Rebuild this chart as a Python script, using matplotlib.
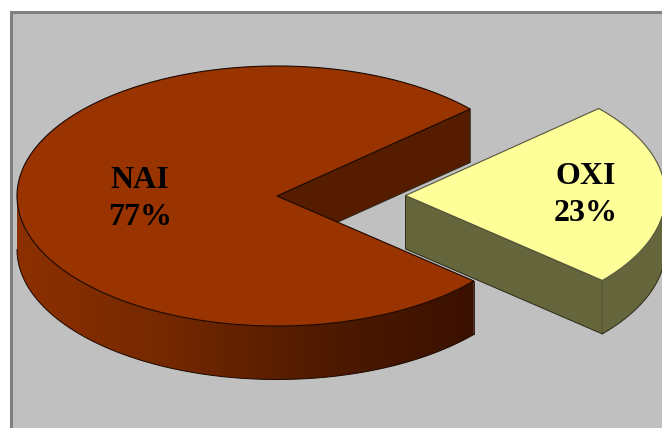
import numpy as np
import matplotlib.pyplot as plt
from matplotlib.colors import LinearSegmentedColormap
from matplotlib.patches import Polygon, Rectangle

plt.rcParams['font.family'] = ['Liberation Serif', 'DejaVu Serif']

labels = ['NAI', 'OXI']
values = [77, 23]
top_colors = ['#993300', '#FFFF99']
side_colors = ['#561C00', '#66663C']

start_angle = 42.0
rx, ry, depth = 260.0, 130.0, 53.5
main_center = (277.0, 196.0)
oxi_center = (405.5, 195.5)

# angles of both slices come from the values
spans = [v / sum(values) * 360 for v in values]
nai_from, nai_to = start_angle, start_angle + spans[0]
oxi_from, oxi_to = start_angle - spans[1], start_angle

fig = plt.figure(figsize=(6.62, 4.28), dpi=100, facecolor='white')
ax = fig.add_axes([0, 0, 1, 1])
ax.set_xlim(0, 662)
ax.set_ylim(428, 0)
ax.axis('off')

ax.add_patch(Rectangle((11, 11.5), 670, 440, fc='#C0C0C0', ec='#808080', lw=2.2))


def arc(center, a0, a1, n=200):
    t = np.radians(np.linspace(a0, a1, n))
    return np.column_stack([center[0] + rx * np.cos(t), center[1] - ry * np.sin(t)])


def wall(p, q, color, z):
    ax.add_patch(Polygon([p, q, q + [0, depth], p + [0, depth]], closed=True,
                         fc=color, ec='#2a2a1a', lw=0.7, zorder=z))


def rim_shape(center, a0, a1):
    pts = arc(center, a0, a1, 300)
    low = pts + np.array([0, depth])
    return np.vstack([pts, low[::-1]]), low


def top_face(center, a0, a1, color, z, edge):
    pts = np.vstack([[center], arc(center, a0, a1, 400)])
    ax.add_patch(Polygon(pts, closed=True, fc=color, ec=edge, lw=0.8, zorder=z))


rim_cmap = LinearSegmentedColormap.from_list('rim', ['#8C3000', '#742800', '#4F1A00', '#3A1000'])
x_left = main_center[0] - rx
x_right = main_center[0] + rx * np.cos(np.radians(nai_to))

# OXI slice, pulled out to the right, sits behind the big one
oxi_c = np.array(oxi_center)
oxi_low = arc(oxi_center, oxi_from, oxi_from, 1)[0]
wall(oxi_c, oxi_low, side_colors[1], 1)
shape, low = rim_shape(oxi_center, oxi_from, 0)
ax.add_patch(Polygon(shape, closed=True, fc=side_colors[1], ec='none', zorder=1))
ax.plot(low[:, 0], low[:, 1], color='#2a2a1a', lw=0.7, zorder=1.1)
top_face(oxi_center, oxi_from, oxi_to, top_colors[1], 2, '#55553f')

# NAI slice: inner wall seen through the gap, then the rim, then the top
main_c = np.array(main_center)
main_high = arc(main_center, nai_from, nai_from, 1)[0]
wall(main_c, main_high, side_colors[0], 3)

shape, low = rim_shape(main_center, 180, nai_to)
clip = Polygon(shape, closed=True, transform=ax.transData, fc='none', ec='none')
ax.add_patch(clip)
grad = ax.imshow(np.linspace(0, 1, 256).reshape(1, -1), cmap=rim_cmap, aspect='auto',
                 extent=(x_left, x_right, 428, 0), zorder=3.2)
grad.set_clip_path(clip)
ax.set_xlim(0, 662)
ax.set_ylim(428, 0)
ax.plot(low[:, 0], low[:, 1], color='#1a0800', lw=0.7, zorder=3.3)
ax.plot([low[-1, 0], low[-1, 0]], [low[-1, 1], low[-1, 1] - depth], color='#1a0800', lw=0.6, zorder=3.3)
top_face(main_center, nai_from, nai_to, top_colors[0], 4, '#1a0800')

ax.text(140, 199, f'{labels[0]}\n{values[0]}%', ha='center', va='center', fontsize=23,
        fontweight='bold', color='black', linespacing=1.36, zorder=6)
ax.text(586, 195, f'{labels[1]}\n{values[1]}%', ha='center', va='center', fontsize=23,
        fontweight='bold', color='black', linespacing=1.36, zorder=6)

plt.savefig('out.png', dpi=100)
